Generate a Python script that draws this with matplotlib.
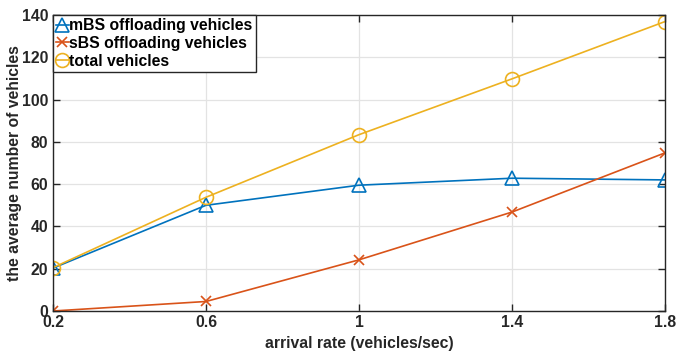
import matplotlib
matplotlib.use("Agg")
import matplotlib.pyplot as plt

plt.rcParams['font.family'] = ['Liberation Sans', 'DejaVu Sans']
plt.rcParams['font.weight'] = 'bold'

arrival_rate = [0.2, 0.6, 1.0, 1.4, 1.8]
x_tick_labels = ["0.2", "0.6", "1", "1.4", "1.8"]
mbs_vehicles = [20.3, 50.0, 59.5, 62.8, 62.0]
sbs_vehicles = [0.0, 4.5, 24.2, 46.8, 74.8]
total_vehicles = [20.5, 53.8, 83.4, 109.8, 136.9]
y_ticks = [0, 20, 40, 60, 80, 100, 120, 140]

FS = 11.3
TXT = '#262626'

fig = plt.figure(figsize=(6.77, 3.54), dpi=100)
ax = fig.add_axes([53 / 677, 1 - 311 / 354, 612 / 677, 296 / 354])

ax.plot(arrival_rate, mbs_vehicles, color='#0072BD', marker='^', markersize=10,
        markerfacecolor='none', markeredgewidth=1.2, linewidth=1.2,
        label='mBS offloading vehicles')
ax.plot(arrival_rate, sbs_vehicles, color='#D95319', marker='x', markersize=7,
        markeredgewidth=1.2, linewidth=1.2, label='sBS offloading vehicles')
ax.plot(arrival_rate, total_vehicles, color='#EDB120', marker='o', markersize=10,
        markerfacecolor='none', markeredgewidth=1.2, linewidth=1.2,
        label='total vehicles')

ax.set_xlim(0.2, 1.8)
ax.set_ylim(0, 140)
ax.set_xticks(arrival_rate)
ax.set_xticklabels(x_tick_labels)
ax.set_yticks(y_ticks)
ax.tick_params(direction='in', top=True, right=True, labelsize=FS,
               length=5, width=1, color=TXT)
ax.tick_params(axis='x', pad=3)
ax.tick_params(axis='y', pad=3.5)
for lbl in ax.get_xticklabels() + ax.get_yticklabels():
    lbl.set_fontweight('bold')
    lbl.set_color(TXT)
ax.grid(True, color='#e3e3e3', linewidth=0.9)
ax.set_axisbelow(True)
for sp in ax.spines.values():
    sp.set_color(TXT)
    sp.set_linewidth(1)

ax.set_xlabel('arrival rate (vehicles/sec)', fontsize=FS, fontweight='bold',
              color=TXT, labelpad=4)
ax.set_ylabel('the average number of vehicles', fontsize=FS, fontweight='bold',
              color=TXT, labelpad=0)

leg = ax.legend(loc='upper left', handlelength=0.8,
                handletextpad=0.05, borderaxespad=0.0, borderpad=0.2,
                labelspacing=0.18, fancybox=False, framealpha=1,
                edgecolor=TXT, prop={'weight': 'bold', 'size': FS})
leg.get_frame().set_linewidth(1)

fig.savefig('out.png', dpi=100)
